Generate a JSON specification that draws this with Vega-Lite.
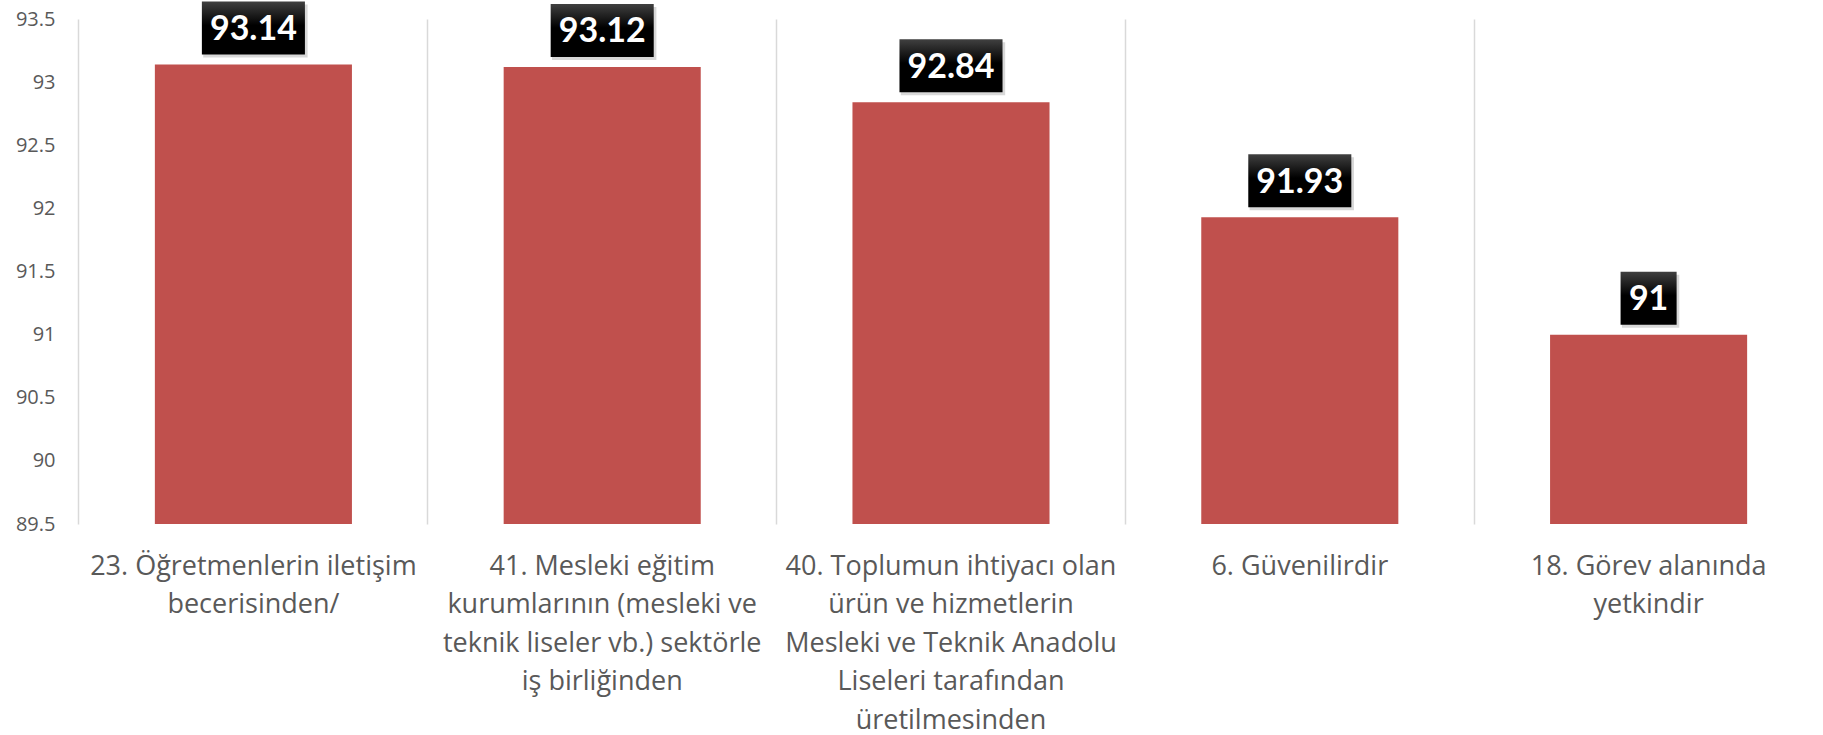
{
  "$schema": "https://vega.github.io/schema/vega-lite/v6.json",
  "width": 1744,
  "height": 505,
  "autosize": {"type": "none"},
  "padding": {"left": 79, "top": 19, "right": 0, "bottom": 211},
  "background": "white",
  "config": {"view": {"stroke": null}, "font": "Open Sans"},
  "data": {
    "values": [
      {"item": "23. Öğretmenlerin iletişim\nbecerisinden/", "score": 93.14},
      {"item": "41. Mesleki eğitim\nkurumlarının (mesleki ve\nteknik liseler vb.) sektörle\niş birliğinden", "score": 93.12},
      {"item": "40. Toplumun ihtiyacı olan\nürün ve hizmetlerin\nMesleki ve Teknik Anadolu\nLiseleri tarafından\nüretilmesinden", "score": 92.84},
      {"item": "6. Güvenilirdir", "score": 91.93},
      {"item": "18. Görev alanında\nyetkindir", "score": 91}
    ]
  },
  "encoding": {
    "x": {
      "field": "item",
      "type": "nominal",
      "sort": null,
      "scale": {"paddingInner": 0.435, "paddingOuter": 0.2175},
      "axis": {
        "title": null,
        "domain": false,
        "ticks": false,
        "grid": true,
        "gridColor": "#d9d9d9",
        "gridWidth": 1.5,
        "bandPosition": -0.385,
        "labelAngle": 0,
        "labelExpr": "split(datum.label, '\\n')",
        "labelFont": "Open Sans",
        "labelFontSize": 27,
        "labelColor": "#595959",
        "labelLineHeight": 38.5,
        "labelPadding": 29,
        "labelBaseline": "top",
        "labelLimit": 0
      }
    },
    "y": {
      "field": "score",
      "type": "quantitative",
      "scale": {"domain": [89.5, 93.5], "zero": false, "nice": false, "clamp": true},
      "axis": {
        "title": null,
        "domain": false,
        "ticks": false,
        "grid": false,
        "values": [89.5, 90, 90.5, 91, 91.5, 92, 92.5, 93, 93.5],
        "format": "~g",
        "labelFont": "Open Sans",
        "labelFontSize": 20,
        "labelColor": "#595959",
        "labelPadding": 24
      }
    }
  },
  "layer": [
    {"mark": {"type": "bar", "color": "#C0504D"}},
    {
      "mark": {
        "type": "rect",
        "color": "#7f7f7f",
        "opacity": 0.3,
        "height": 53,
        "width": {"expr": "length(toString(datum.score)) * 15.67 + 26"},
        "yOffset": -33.5,
        "xOffset": 2
      }
    },
    {
      "mark": {
        "type": "rect",
        "fill": {
          "gradient": "linear",
          "x1": 0, "y1": 0, "x2": 0, "y2": 1,
          "stops": [
            {"offset": 0, "color": "#404040"},
            {"offset": 0.45, "color": "#000000"},
            {"offset": 1, "color": "#000000"}
          ]
        },
        "height": 53,
        "width": {"expr": "length(toString(datum.score)) * 15.67 + 24.7"},
        "yOffset": -36.5
      }
    },
    {
      "mark": {
        "type": "text",
        "color": "white",
        "font": "Lato",
        "fontWeight": "bold",
        "fontSize": 34,
        "baseline": "middle",
        "yOffset": -34.5
      },
      "encoding": {"text": {"field": "score", "type": "quantitative", "format": "~g"}}
    }
  ]
}
